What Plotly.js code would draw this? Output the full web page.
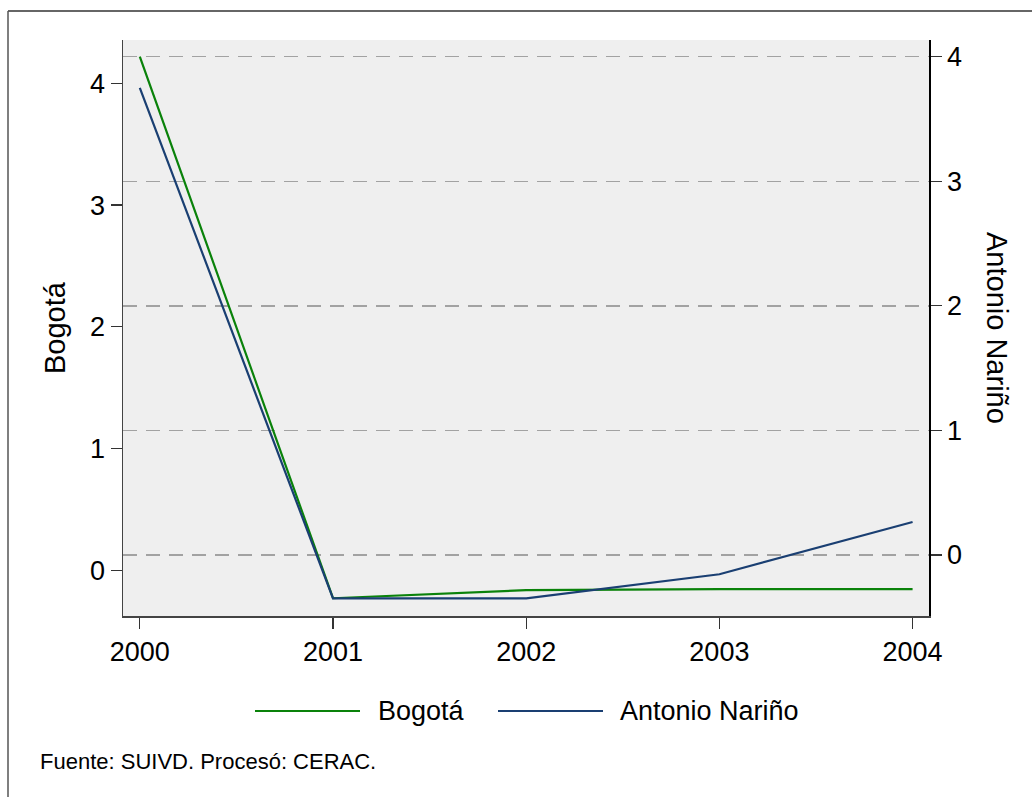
<!DOCTYPE html>
<html>
<head>
<meta charset="utf-8">
<script src="https://cdn.plot.ly/plotly-3.0.1.min.js"></script>
<style>
  html, body { margin: 0; padding: 0; background: #ffffff; }
  #chart { width: 1032px; height: 797px; }
</style>
</head>
<body>
<div id="chart"></div>
<script>
// ---- data ----
const years = [2000, 2001, 2002, 2003, 2004];
const bogota = [4.22, -0.23, -0.164, -0.156, -0.156];
const antonioNarino = [3.75, -0.348, -0.348, -0.155, 0.265];
const seriesNames = ['Bogotá', 'Antonio Nariño'];
const yTicks = [0, 1, 2, 3, 4];
const footerText = 'Fuente: SUIVD. Procesó: CERAC.';

// ---- layout constants ----
const W = 1032, H = 797;
const M = { l: 123, r: 103, t: 40, b: 181 };
const PW = W - M.l - M.r, PH = H - M.t - M.b;
const px2x = px => (px - M.l) / PW;
const px2y = py => 1 - (py - M.t) / PH;

const FONT = 'Liberation Sans, Arial, Helvetica, sans-serif';
const colors = ['#0a820a', '#1a3f72'];

const traces = [
  { x: years, y: bogota, name: seriesNames[0], type: 'scatter', mode: 'lines',
    line: { color: colors[0], width: 2.2 }, yaxis: 'y', showlegend: false },
  { x: years, y: antonioNarino, name: seriesNames[1], type: 'scatter', mode: 'lines',
    line: { color: colors[1], width: 2.2 }, yaxis: 'y2', showlegend: false }
];

const legY = px2y(711);
const shapes = [
  // outer frame (top and left edges visible)
  { type: 'line', xref: 'paper', yref: 'paper', x0: px2x(8), x1: px2x(1040), y0: px2y(11), y1: px2y(11),
    line: { color: '#333333', width: 1.5 } },
  { type: 'line', xref: 'paper', yref: 'paper', x0: px2x(8), x1: px2x(8), y0: px2y(11), y1: px2y(805),
    line: { color: '#555555', width: 1.5 } },
  // legend keys
  { type: 'line', xref: 'paper', yref: 'paper', x0: px2x(255), x1: px2x(360), y0: legY, y1: legY,
    line: { color: colors[0], width: 2.2 } },
  { type: 'line', xref: 'paper', yref: 'paper', x0: px2x(498), x1: px2x(603), y0: legY, y1: legY,
    line: { color: colors[1], width: 2.2 } }
];

const annotations = [
  { text: seriesNames[0], xref: 'paper', yref: 'paper', x: px2x(376), y: legY,
    xanchor: 'left', yanchor: 'middle', showarrow: false, font: { family: FONT, size: 27, color: '#000' } },
  { text: seriesNames[1], xref: 'paper', yref: 'paper', x: px2x(618), y: legY,
    xanchor: 'left', yanchor: 'middle', showarrow: false, font: { family: FONT, size: 27, color: '#000' } },
  { text: footerText, xref: 'paper', yref: 'paper', x: px2x(38), y: px2y(761),
    xanchor: 'left', yanchor: 'middle', showarrow: false, font: { family: FONT, size: 22, color: '#000' } },
  { text: seriesNames[0], xref: 'paper', yref: 'paper', x: px2x(55), y: 0.5, textangle: -90,
    xanchor: 'center', yanchor: 'middle', showarrow: false, font: { family: FONT, size: 29, color: '#000' } },
  { text: seriesNames[1], xref: 'paper', yref: 'paper', x: px2x(997), y: 0.5, textangle: 90,
    xanchor: 'center', yanchor: 'middle', showarrow: false, font: { family: FONT, size: 29, color: '#000' } }
];

const tickFont = { family: FONT, size: 27, color: '#000' };

const layout = {
  width: W, height: H,
  margin: M,
  paper_bgcolor: '#ffffff',
  plot_bgcolor: '#efefef',
  showlegend: false,
  font: { family: FONT, color: '#000' },
  xaxis: {
    range: [1999.913, 2004.085], tickvals: years, ticktext: years.map(String),
    ticks: 'outside', ticklen: 11, tickwidth: 1.3, tickcolor: '#333',
    showline: true, linecolor: '#444', linewidth: 1.5,
    showgrid: false, zeroline: false, tickfont: tickFont, fixedrange: true
  },
  yaxis: {
    range: [-0.376, 4.356], tickvals: yTicks,
    ticks: 'outside', ticklen: 11, tickwidth: 1.3, tickcolor: '#333',
    showline: true, linecolor: '#444', linewidth: 1.5,
    showgrid: false, zeroline: false, tickfont: tickFont
  },
  yaxis2: {
    overlaying: 'y', side: 'right',
    range: [-0.49, 4.134], tickvals: yTicks,
    ticks: 'outside', ticklen: 11, tickwidth: 1.3, tickcolor: '#333',
    showline: true, linecolor: '#000', linewidth: 1.5,
    showgrid: true, gridcolor: '#a2a2a2', gridwidth: 1.5, griddash: '14px,9px',
    zeroline: false, tickfont: tickFont
  },
  shapes: shapes,
  annotations: annotations
};

Plotly.newPlot('chart', traces, layout, { staticPlot: true, displayModeBar: false });
</script>
</body>
</html>
